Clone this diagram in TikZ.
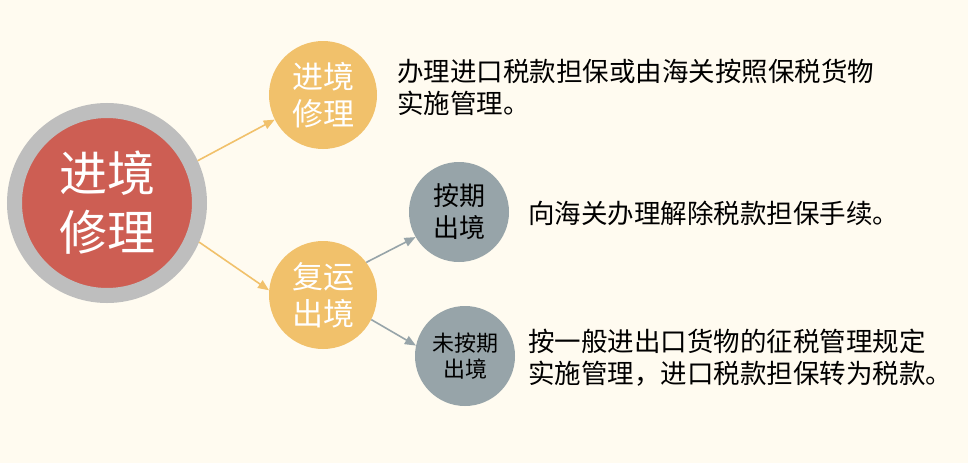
\documentclass[tikz,border=0pt]{standalone}
\usepackage{fontspec}
\setmainfont{Noto Sans CJK SC}
\usetikzlibrary{arrows.meta}
\definecolor{sfondo}{HTML}{FFFBF0}
\definecolor{rosso}{HTML}{CD5E53}
\definecolor{anello}{HTML}{BEBEBE}
\definecolor{arancio}{HTML}{F1C16B}
\definecolor{grigio}{HTML}{97A4A9}
\begin{document}
\begin{tikzpicture}[x=1pt,y=1pt,
  tondo/.style={circle,inner sep=0pt,align=center},
  testo/.style={anchor=west,align=left,inner sep=0pt,font=\fontsize{26.5}{32}\selectfont},
  freccia/.style={line width=1.6pt,-{Triangle[length=11pt,width=9pt]}}]

\fill[sfondo] (0,0) rectangle (968,-463); % sfondo
\useasboundingbox (0,0) rectangle (968,-463);

\node[tondo,fill=rosso,draw=anello,line width=15pt,minimum size=185pt,
  text=white,font=\fontsize{48}{59}\selectfont] (a) at (107,-203) {进境\\修理};
\node[tondo,fill=arancio,minimum size=108pt,text=white,
  font=\fontsize{31}{37}\selectfont] (b) at (323,-95) {进境\\修理};
\node[tondo,fill=arancio,minimum size=108pt,text=white,
  font=\fontsize{31}{37}\selectfont] (c) at (323,-295) {复运\\出境};
\node[tondo,fill=grigio,minimum size=100pt,
  font=\fontsize{26}{32}\selectfont] (d) at (459,-212) {按期\\出境};
\node[tondo,fill=grigio,minimum size=100pt,
  font=\fontsize{22}{26}\selectfont] (e) at (465,-356) {未按期\\出境};

\node[testo] (f) at (397,-87) {办理进口税款担保或由海关按照保税货物\\实施管理。};
\node[testo] (g) at (528,-213) {向海关办理解除税款担保手续。};
\node[testo] (h) at (528,-358) {按一般进出口货物的征税管理规定\\实施管理，进口税款担保转为税款。};

\draw[freccia,arancio] (a.25) -- (b.207);
\draw[freccia,arancio] (a.-23) -- (c.175);
\draw[freccia,grigio] (c.37) -- (d.210);
\draw[freccia,grigio] (c.-27) -- (e.168);

\end{tikzpicture}
\end{document}
